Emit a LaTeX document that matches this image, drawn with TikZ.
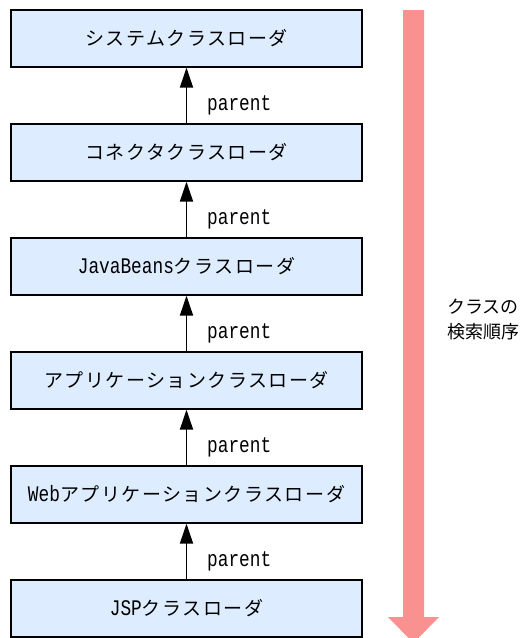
\documentclass[tikz,border=0pt]{standalone}
\usepackage{fontspec}
\usepackage{graphicx}
\setmainfont{Liberation Mono}
\newfontfamily\jp[LetterSpace=8]{Noto Sans CJK JP}
\newfontfamily\jpplain{Noto Sans CJK JP}
\usetikzlibrary{arrows.meta}
\definecolor{boxfill}{RGB}{221,237,255}
\definecolor{pinkarrow}{RGB}{249,145,145}
\tikzset{
  loader/.style={draw=black, line width=1.3pt, fill=boxfill, minimum width=351pt, minimum height=57pt, inner sep=0pt, font=\fontsize{17.8}{20}\selectfont},
  parentarrow/.style={line width=1.8pt, -{Triangle[width=13pt,length=20pt]}},
  plabel/.style={anchor=west, inner sep=0pt, font=\fontsize{17.8}{20}\selectfont},
}
\newcommand{\jk}[1]{{\fontsize{19}{20}\selectfont\jp #1}}
\newcommand{\lat}[1]{\scalebox{1}[1.25]{#1}}
\begin{document}
\begin{tikzpicture}[x=1pt,y=-1pt]
\useasboundingbox (0,0) rectangle (531,638);
% search order arrow
\fill[pinkarrow] (403,10) -- (424,10) -- (424,617) -- (439,617) -- (413.5,643) -- (388,617) -- (403,617) -- cycle;
\node[loader] (b1) at (186.5,38.5) {\jk{システムクラスローダ}};
\node[loader] (b2) at (186.5,152.5) {\jk{コネクタクラスローダ}};
\node[loader] (b3) at (186.5,266.5) {\lat{JavaBeans}\jk{クラスローダ}};
\node[loader] (b4) at (186.5,380.5) {\jk{アプリケーションクラスローダ}};
\node[loader] (b5) at (186.5,494.5) {\lat{Web}\jk{アプリケーションクラスローダ}};
\node[loader] (b6) at (186.5,608.5) {\lat{JSP}\jk{クラスローダ}};
\draw[parentarrow] (b2.north) -- (b1.south);
\draw[parentarrow] (b3.north) -- (b2.south);
\draw[parentarrow] (b4.north) -- (b3.south);
\draw[parentarrow] (b5.north) -- (b4.south);
\draw[parentarrow] (b6.north) -- (b5.south);
\node[plabel] (p1) at (207,105) {\lat{parent}};
\node[plabel] (p2) at (207,219) {\lat{parent}};
\node[plabel] (p3) at (207,333) {\lat{parent}};
\node[plabel] (p4) at (207,447) {\lat{parent}};
\node[plabel] (p5) at (207,561) {\lat{parent}};
\node[anchor=west, inner sep=0pt, align=left, font=\fontsize{18}{25}\selectfont\jpplain] (order) at (447,319) {クラスの\\検索順序};
\end{tikzpicture}
\end{document}
